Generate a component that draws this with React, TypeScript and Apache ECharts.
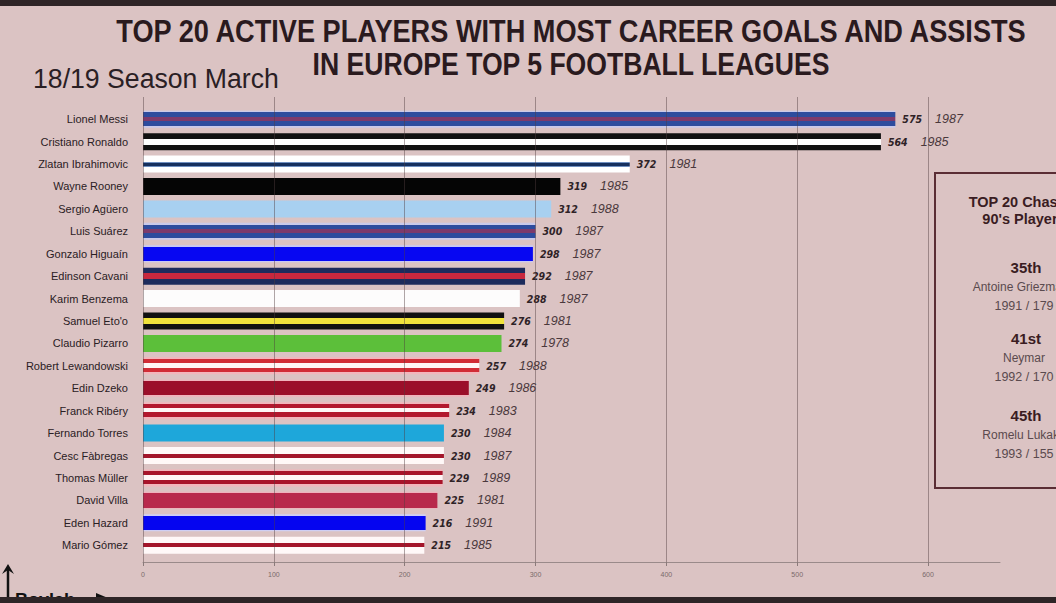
import React, { useEffect, useRef } from "react";
import * as echarts from "echarts";

const categories = [
  "Lionel Messi", "Cristiano Ronaldo", "Zlatan Ibrahimovic", "Wayne Rooney", "Sergio Agüero",
  "Luis Suárez", "Gonzalo Higuaín", "Edinson Cavani", "Karim Benzema", "Samuel Eto'o",
  "Claudio Pizarro", "Robert Lewandowski", "Edin Dzeko", "Franck Ribéry", "Fernando Torres",
  "Cesc Fàbregas", "Thomas Müller", "David Villa", "Eden Hazard", "Mario Gómez",
];
const values = [575, 564, 372, 319, 312, 300, 298, 292, 288, 276, 274, 257, 249, 234, 230, 230, 229, 225, 216, 215];
const years = [1987, 1985, 1981, 1985, 1988, 1987, 1987, 1987, 1987, 1981, 1978, 1988, 1986, 1983, 1984, 1987, 1989, 1981, 1991, 1985];
const xTicks = [0, 100, 200, 300, 400, 500, 600];

const titleLines = ["TOP 20 ACTIVE PLAYERS WITH MOST CAREER GOALS AND ASSISTS", "IN EUROPE TOP 5 FOOTBALL LEAGUES"];
const subtitle = "18/19 Season March";
const chasersTitle = ["TOP 20 Chasers", "90's Players"];
const chasersRank = ["35th", "41st", "45th"];
const chasersName = ["Antoine Griezmann", "Neymar", "Romelu Lukaku"];
const chasersInfo = ["1991 / 179", "1992 / 170", "1993 / 155"];

// stripe patterns (color, from, to) top -> bottom
const barca: [string, number, number][] = [["#c9c9ea", 0, 0.1], ["#2d4c9e", 0.1, 0.36], ["#7c3a6c", 0.36, 0.62], ["#2d4c9e", 0.62, 0.9], ["#c9c9ea", 0.9, 1]];
const redWhite = (red: string): [string, number, number][] => [["#f2b6bc", 0, 0.08], [red, 0.08, 0.32], ["#fff6f6", 0.32, 0.6], [red, 0.6, 0.88], ["#f2b6bc", 0.88, 1]];
const whiteRed = (red: string): [string, number, number][] => [["#fff8f8", 0, 0.4], [red, 0.4, 0.62], ["#fff8f8", 0.62, 1]];
const barPatterns: [string, number, number][][] = [
  barca,
  [["#111111", 0, 0.33], ["#ffffff", 0.33, 0.68], ["#111111", 0.68, 1]],
  [["#ffffff", 0, 0.36], ["#6f8fc0", 0.36, 0.42], ["#16305e", 0.42, 0.6], ["#6f8fc0", 0.6, 0.66], ["#ffffff", 0.66, 1]],
  [["#050505", 0, 1]],
  [["#a8d0f0", 0, 1]],
  barca,
  [["#c8c8f4", 0, 0.1], ["#0707f2", 0.1, 0.9], ["#c8c8f4", 0.9, 1]],
  [["#1d2b5c", 0, 0.34], ["#c8283e", 0.34, 0.64], ["#1d2b5c", 0.64, 1]],
  [["#fdfcfc", 0, 1]],
  [["#111111", 0, 0.3], ["#f0e23c", 0.3, 0.66], ["#111111", 0.66, 1]],
  [["#5cbf3a", 0, 1]],
  redWhite("#d12c36"),
  [["#f0b4bc", 0, 0.08], ["#9b0f2a", 0.08, 0.92], ["#f0b4bc", 0.92, 1]],
  redWhite("#b3182e"),
  [["#1ea7da", 0, 1]],
  whiteRed("#a3152a"),
  redWhite("#a8142a"),
  [["#efb2bc", 0, 0.06], ["#b8294c", 0.06, 0.94], ["#efb2bc", 0.94, 1]],
  [["#cfcff4", 0, 0.08], ["#0505f0", 0.08, 0.92], ["#cfcff4", 0.92, 1]],
  whiteRed("#a3152a"),
];

const makeGradient = (p: [string, number, number][]) => {
  const stops: { offset: number; color: string }[] = [];
  p.forEach(([c, a, b]) => {
    stops.push({ offset: a, color: c });
    stops.push({ offset: b, color: c });
  });
  return new echarts.graphic.LinearGradient(0, 0, 0, 1, stops);
};

const AXIS_MAX = 655;
const cond = '"DejaVu Sans Condensed", "Liberation Sans", sans-serif';
const sans = '"Liberation Sans", Arial, sans-serif';

const measure = (text: string, font: string) => {
  const c = document.createElement("canvas").getContext("2d");
  if (!c) return 1;
  c.font = font;
  return c.measureText(text).width || 1;
};

export default function App() {
  const ref = useRef<HTMLDivElement>(null);
  useEffect(() => {
    if (!ref.current) return;
    const chart = echarts.init(ref.current, undefined, { renderer: "svg" });
    const boxCx = 1024;
    const boxTexts: any[] = [];
    chasersTitle.forEach((t, i) =>
      boxTexts.push({ type: "text", x: boxCx, y: 202 + i * 17, style: { text: t, fill: "#3a1c22", font: `bold 14.5px ${sans}`, textAlign: "center", textVerticalAlign: "middle" } })
    );
    const blockY = [267, 338, 415];
    chasersRank.forEach((r, i) => {
      boxTexts.push({ type: "text", x: boxCx + 2, y: blockY[i], style: { text: r, fill: "#3a1c22", font: `bold 15px ${sans}`, textAlign: "center", textVerticalAlign: "middle" } });
      boxTexts.push({ type: "text", x: boxCx, y: blockY[i] + 20, style: { text: chasersName[i], fill: "#5a4a4e", font: `12px ${sans}`, textAlign: "center", textVerticalAlign: "middle" } });
      boxTexts.push({ type: "text", x: boxCx, y: blockY[i] + 39, style: { text: chasersInfo[i], fill: "#5a4a4e", font: `12.5px ${sans}`, textAlign: "center", textVerticalAlign: "middle" } });
    });

    const titleFont = `bold 32px ${sans}`;
    const sx1 = 913 / measure(titleLines[0], titleFont);
    const sx2 = 518 / measure(titleLines[1], titleFont);
    const subFont = `27px ${sans}`;
    const ssx = 246 / measure(subtitle, subFont);

    chart.setOption({
      animation: false,
      backgroundColor: "#dbc3c3",
      grid: [
        { left: 143, right: 56, top: 108, bottom: 603 - 556.4 },
        { left: 143, right: 56, top: 97, bottom: 41 },
      ],
      xAxis: [
        { type: "value", gridIndex: 0, min: 0, max: AXIS_MAX, show: false },
        {
          type: "value", gridIndex: 1, min: 0, max: AXIS_MAX, interval: 100, z: 5,
          axisLine: { show: true, lineStyle: { color: "#9a8a8a", width: 1 } },
          axisTick: { show: true, length: 4, lineStyle: { color: "#8a7a7a" } },
          axisLabel: {
            color: "#7a6a6a", fontSize: 7, margin: 9, showMaxLabel: false, fontFamily: sans,
            formatter: (v: number) => (xTicks.includes(v) ? String(v) : ""),
          },
          splitLine: { show: true, showMaxLine: false, lineStyle: { color: "rgba(80,60,62,0.45)", width: 1 } },
        },
      ],
      yAxis: [
        {
          type: "category", gridIndex: 0, data: categories, inverse: true,
          axisLine: { show: false }, axisTick: { show: false },
          axisLabel: { color: "#2a2024", fontSize: 11, margin: 15, fontFamily: sans },
        },
        { type: "value", gridIndex: 1, min: 0, max: 1, show: false },
      ],
      series: [
        {
          type: "bar", xAxisIndex: 0, yAxisIndex: 0, barWidth: 17, z: 2,
          data: values.map((v, i) => ({ value: v, itemStyle: { color: makeGradient(barPatterns[i]) } })),
          label: {
            show: true, position: "right", distance: 7,
            formatter: (p: any) => `{v|${p.value}}{y|${years[p.dataIndex]}}`,
            rich: {
              v: { fontSize: 10.5, fontStyle: "italic", fontWeight: 600, color: "#2e2226", fontFamily: cond },
              y: { fontSize: 12.5, fontStyle: "italic", color: "#4a383c", fontFamily: sans, padding: [0, 0, 0, 13] },
            },
          },
        },
      ],
      graphic: [
        { type: "rect", shape: { x: 0, y: 0, width: 1056, height: 6 }, style: { fill: "#2f2527" }, z: 100 },
        {
          type: "text", x: 571, y: 31, scaleX: sx1, z: 50,
          style: { text: titleLines[0], fill: "#2a1a1e", font: titleFont, textAlign: "center", textVerticalAlign: "middle" },
        },
        {
          type: "text", x: 571, y: 64, scaleX: sx2, z: 50,
          style: { text: titleLines[1], fill: "#2a1a1e", font: titleFont, textAlign: "center", textVerticalAlign: "middle" },
        },
        {
          type: "text", x: 33, y: 79, scaleX: ssx, z: 50,
          style: { text: subtitle, fill: "#2a2024", font: subFont, textAlign: "left", textVerticalAlign: "middle" },
        },
        { type: "rect", shape: { x: 935, y: 173, width: 200, height: 315 }, style: { fill: "none", stroke: "#5a2d34", lineWidth: 2 }, z: 40 },
        ...boxTexts.map((t) => ({ ...t, z: 41 })),
        { type: "line", shape: { x1: 8, y1: 568, x2: 8, y2: 600 }, style: { stroke: "#111", lineWidth: 2.5 }, z: 60 },
        { type: "polygon", shape: { points: [[2, 574], [8, 564], [14, 574], [8, 570]] }, style: { fill: "#111" }, z: 60 },
        { type: "text", x: 15, y: 591, style: { text: "Boylab", fill: "#111", font: `bold 18px ${sans}`, textAlign: "left", textVerticalAlign: "top" }, z: 60 },
        { type: "polygon", shape: { points: [[96, 593], [108, 598], [96, 600]] }, style: { fill: "#111" }, z: 60 },
        { type: "rect", shape: { x: 0, y: 597, width: 1056, height: 6 }, style: { fill: "#2f2527" }, z: 100 },
      ],
    });
    return () => chart.dispose();
  }, []);
  return <div ref={ref} style={{ position: "fixed", left: 0, top: 0, width: 1056, height: 603 }} />;
}
